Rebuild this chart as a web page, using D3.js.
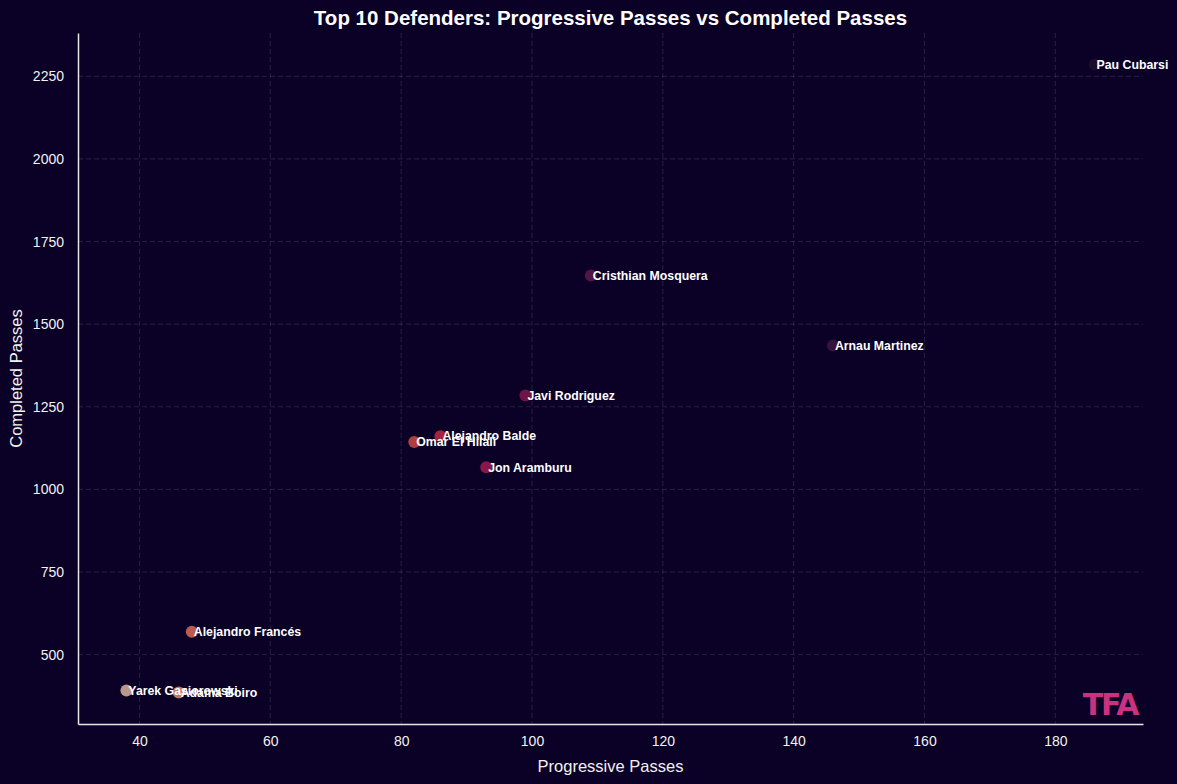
<!DOCTYPE html>
<html>
<head>
<meta charset="utf-8">
<script src="https://cdn.jsdelivr.net/npm/d3@7"></script>
<style>
  body { margin: 0; background: #0b0026; }
  svg { display: block; font-family: "Liberation Sans", Arial, sans-serif; }
</style>
</head>
<body>
<svg id="chart"></svg>
<script>
var width = 1177;
var height = 784;

// values
var players = ["Pau Cubarsi", "Cristhian Mosquera", "Arnau Martinez", "Javi Rodriguez",
               "Alejandro Balde", "Omar El Hilali", "Jon Aramburu", "Alejandro Francés",
               "Yarek Gasiorowski", "Adama Boiro"];
var progressive = [186, 109, 146, 99, 86, 82, 93, 48, 38, 46];
var completed = [2286, 1647, 1435, 1284, 1161, 1143, 1067, 569, 391, 385];
var xTicks = [40, 60, 80, 100, 120, 140, 160, 180];
var yTicks = [500, 750, 1000, 1250, 1500, 1750, 2000, 2250];

var margin = {top: 33, right: 34, bottom: 60, left: 78};

var svg = d3.select("#chart")
  .attr("width", width)
  .attr("height", height);

svg.append("rect")
  .attr("width", width)
  .attr("height", height)
  .attr("fill", "#0b0026");

var data = players.map(function(p, i) {
  return {name: p, pp: progressive[i], cp: completed[i]};
});

// matplotlib style 5% margins
var xMin = d3.min(progressive), xMax = d3.max(progressive);
var yMin = d3.min(completed), yMax = d3.max(completed);
var xPad = (xMax - xMin) * 0.05, yPad = (yMax - yMin) * 0.05;

var x = d3.scaleLinear()
  .domain([xMin - xPad, xMax + xPad])
  .range([margin.left, width - margin.right]);

var y = d3.scaleLinear()
  .domain([yMin - yPad, yMax + yPad])
  .range([height - margin.bottom, margin.top]);

// rocket_r palette, one colour per player ranked by progressive passes
var rocketR = d3.interpolateRgbBasis(["#faebdd", "#f6b48f", "#f37651", "#e13342",
                                      "#ad1759", "#701f57", "#35193e", "#03051a"]);
var order = data.slice().sort(function(a, b) { return a.pp - b.pp; })
  .map(function(d) { return d.name; });
var color = function(name) {
  var i = order.indexOf(name);
  return rocketR((i + 1) / (order.length + 1));
};

var grid = svg.append("g");

grid.selectAll(".gx")
  .data(xTicks)
  .enter().append("line")
  .attr("x1", function(d) { return x(d); })
  .attr("x2", function(d) { return x(d); })
  .attr("y1", margin.top)
  .attr("y2", height - margin.bottom)
  .attr("stroke", "#ffffff")
  .attr("stroke-opacity", 0.12)
  .attr("stroke-dasharray", "5,3");

grid.selectAll(".gy")
  .data(yTicks)
  .enter().append("line")
  .attr("x1", margin.left)
  .attr("x2", width - margin.right)
  .attr("y1", function(d) { return y(d); })
  .attr("y2", function(d) { return y(d); })
  .attr("stroke", "#ffffff")
  .attr("stroke-opacity", 0.12)
  .attr("stroke-dasharray", "5,3");

var xAxis = svg.append("g")
  .attr("transform", "translate(0," + (height - margin.bottom) + ")")
  .call(d3.axisBottom(x).tickValues(xTicks).tickFormat(d3.format("d")).tickSize(0).tickPadding(12));

var yAxis = svg.append("g")
  .attr("transform", "translate(" + margin.left + ",0)")
  .call(d3.axisLeft(y).tickValues(yTicks).tickFormat(d3.format("d")).tickSize(0).tickPadding(14));

[xAxis, yAxis].forEach(function(a) {
  a.select(".domain").attr("stroke", "#e6e6e6").attr("stroke-width", 1.5);
  a.selectAll("text")
    .attr("fill", "#f2f2f2")
    .style("font-size", "14px")
    .style("font-family", "'Liberation Sans', Arial, sans-serif");
});

svg.append("g")
  .selectAll("circle")
  .data(data)
  .enter().append("circle")
  .attr("cx", function(d) { return x(d.pp); })
  .attr("cy", function(d) { return y(d.cp); })
  .attr("r", 6)
  .attr("fill", function(d) { return color(d.name); })
  .attr("fill-opacity", 0.75);

svg.append("g")
  .selectAll("text")
  .data(data)
  .enter().append("text")
  .attr("x", function(d) { return x(d.pp + 0.3); })
  .attr("y", function(d) { return y(d.cp); })
  .attr("dy", "0.35em")
  .attr("fill", "#ffffff")
  .style("font-size", "12.3px")
  .style("font-weight", "bold")
  .text(function(d) { return d.name; });

svg.append("text")
  .attr("x", (margin.left + width - margin.right) / 2)
  .attr("y", 25)
  .attr("text-anchor", "middle")
  .attr("fill", "#ffffff")
  .style("font-size", "20.5px")
  .style("font-weight", "bold")
  .text("Top 10 Defenders: Progressive Passes vs Completed Passes");

svg.append("text")
  .attr("x", (margin.left + width - margin.right) / 2)
  .attr("y", 772)
  .attr("text-anchor", "middle")
  .attr("fill", "#f2f2f2")
  .style("font-size", "16.5px")
  .text("Progressive Passes");

svg.append("text")
  .attr("transform", "translate(22," + ((margin.top + height - margin.bottom) / 2) + ") rotate(-90)")
  .attr("text-anchor", "middle")
  .attr("fill", "#f2f2f2")
  .style("font-size", "16.5px")
  .text("Completed Passes");

// TFA logo
svg.append("text")
  .attr("x", 1110)
  .attr("y", 715)
  .attr("text-anchor", "middle")
  .attr("fill", "#c8327f")
  .style("font-family", "'DejaVu Sans', sans-serif")
  .style("font-size", "30px")
  .style("font-weight", "bold")
  .style("letter-spacing", "-2px")
  .text("TFA");
</script>
</body>
</html>
